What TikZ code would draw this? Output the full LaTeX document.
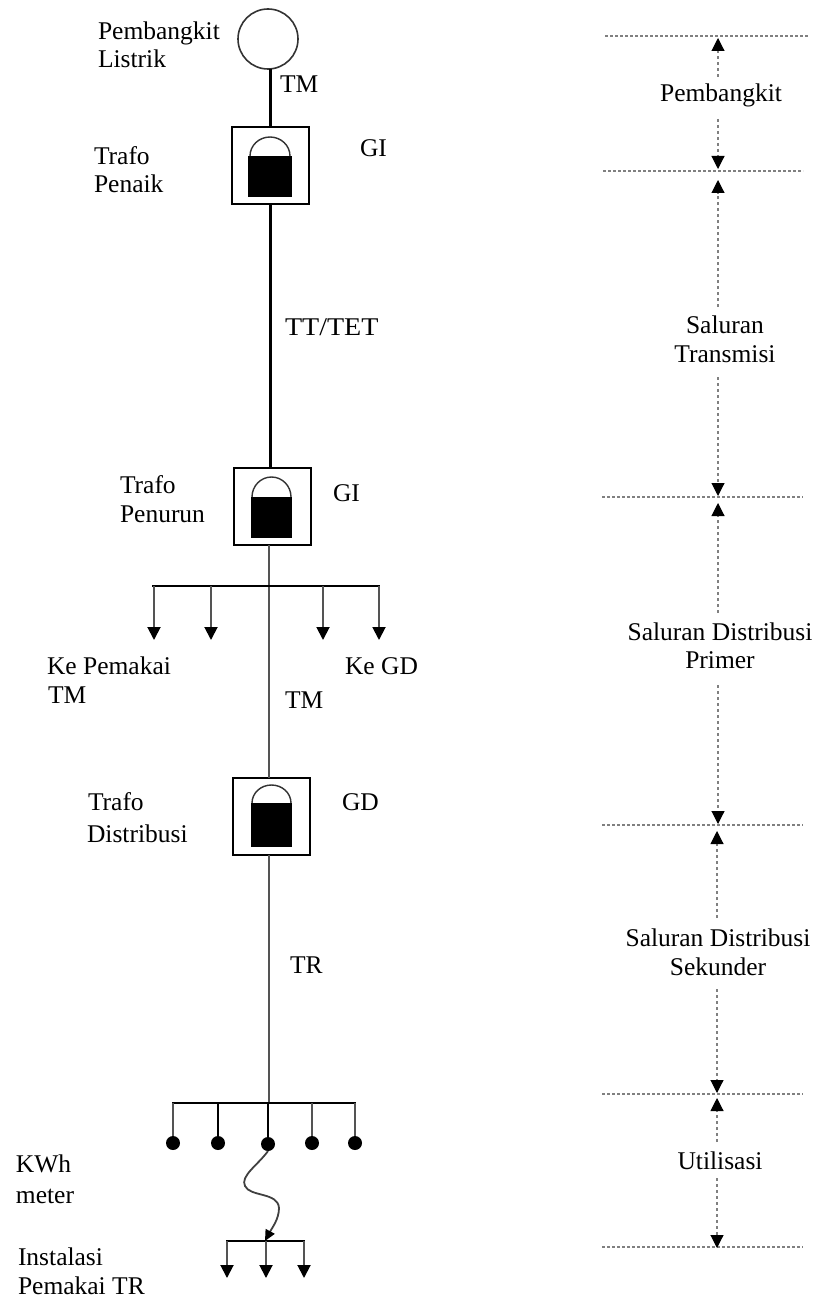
\documentclass[tikz,border=0pt]{standalone}
\usepackage{fontspec}
\setmainfont{Liberation Serif}
\usetikzlibrary{arrows.meta}
\definecolor{softline}{gray}{0.33}
\definecolor{tickline}{gray}{0.5}
\tikzset{
  lbl/.style={anchor=base west,inner sep=0pt,outer sep=0pt,font=\fontsize{25.5}{29}\selectfont,text=black},
  clbl/.style={anchor=base,inner sep=0pt,outer sep=0pt,font=\fontsize{25.5}{29}\selectfont,text=black},
  trafobox/.style={draw=black,line width=2pt,fill=white,inner sep=0pt,outer sep=0pt,minimum width=77pt,minimum height=77pt},
  core/.style={fill=black,inner sep=0pt,outer sep=0pt},
  wire/.style={line width=2.2pt,black},
  softwire/.style={line width=2.6pt,softline},
  bus/.style={line width=2.2pt,black},
  drop/.style={line width=1.9pt,softline,-{Triangle[length=13pt,width=13pt,color=black]}},
  tick/.style={line width=1.2pt,tickline,densely dashed},
  span/.style={line width=1.1pt,tickline,dashed,-{Triangle[length=13pt,width=13pt,color=black]}},
  dot/.style={circle,fill=black,inner sep=0pt,outer sep=0pt,minimum size=14pt},
  dome/.style={line width=1.4pt,black!80}
}
\begin{document}
\begin{tikzpicture}[x=1pt,y=-1pt]
\useasboundingbox (0,0) rectangle (815,1300);
% generator and transformers
\node[circle,draw=black!80,line width=1.6pt,inner sep=0pt,outer sep=0pt,minimum size=60pt] (gen) at (268,39) {};
\node[trafobox] (box1) at (270.5,165.5) {};
\node[trafobox] (box2) at (272,506.5) {};
\node[trafobox] (box3) at (271.5,816) {};
\node[core,minimum width=44pt,minimum height=41pt] (core1) at (270,176.5) {};
\node[core,minimum width=41pt,minimum height=41pt] (core2) at (271.5,517.5) {};
\node[core,minimum width=41pt,minimum height=44pt] (core3) at (271.5,825) {};
\draw[dome] (core1.north west) ++(2,0) arc[start angle=180,end angle=360,x radius=20,y radius=19];
\draw[dome] (core2.north west) ++(1,0) arc[start angle=180,end angle=360,x radius=19.5,y radius=20];
\draw[dome] (core3.north west) ++(1,0) arc[start angle=180,end angle=360,x radius=19.5,y radius=18];
% junctions
\coordinate (j1) at (269,586);
\coordinate (j2) at (268,1103);
\draw[wire] (gen.south -| box1.north) -- (box1.north);
\draw[wire] (box1.south) -- (box1.south |- box2.north);
\draw[softwire] (j1 |- box2.south) -- (j1 |- box3.north);
\draw[softwire] (j1 |- box3.south) -- (j1 |- j2);
% upper bus
\coordinate (a1) at (154,586); \coordinate (a2) at (211,586);
\coordinate (a3) at (323,586); \coordinate (a4) at (379,586);
\coordinate (a1e) at (154,640); \coordinate (a2e) at (211,640);
\coordinate (a3e) at (323,640); \coordinate (a4e) at (379,640);
\coordinate (al) at (152,586); \coordinate (ar) at (380,586);
\draw[bus] (al) -- (ar);
\draw[drop] (a1) -- (a1e);
\draw[drop] (a2) -- (a2e);
\draw[drop] (a3) -- (a3e);
\draw[drop] (a4) -- (a4e);
% service bus
\node[dot] (d1) at (173,1143) {};
\node[dot] (d2) at (218,1143) {};
\node[dot] (d3) at (268,1144) {};
\node[dot] (d4) at (312,1143) {};
\node[dot] (d5) at (355,1143) {};
\coordinate (bl) at (172,1103); \coordinate (br) at (356,1103);
\draw[bus] (bl) -- (br);
\draw[softwire,line width=2.2pt] (d1 |- bl) -- (d1);
\draw[wire] (d2 |- bl) -- (d2);
\draw[wire] (d3 |- bl) -- (d3);
\draw[softwire,line width=2.2pt] (d4 |- bl) -- (d4);
\draw[softwire,line width=2.2pt] (d5 |- bl) -- (d5);
% squiggle
\coordinate (t) at (265,1241);
\draw[line width=1.8pt,black!75,-{Triangle[length=11pt,width=10pt,color=black]}]
  (d3.south) .. controls (258,1165) and (240,1176) .. (245,1186)
  .. controls (250,1197) and (278,1192) .. (279,1208)
  .. controls (279,1219) and (272,1228) .. (t);
% lower bus
\coordinate (c1) at (227,1241); \coordinate (c2) at (266,1241); \coordinate (c3) at (304,1241);
\coordinate (c1e) at (227,1278); \coordinate (c2e) at (266,1278); \coordinate (c3e) at (304,1278);
\coordinate (cl) at (226,1241); \coordinate (cr) at (305,1241);
\draw[bus] (cl) -- (cr);
\draw[drop] (c1) -- (c1e);
\draw[drop] (c2) -- (c2e);
\draw[drop] (c3) -- (c3e);
% left labels
\node[lbl] (l1) at (98,40) {Pembangkit};
\node[lbl] (l2) at (98,68) {Listrik};
\node[lbl] (l3) at (280,93) {TM};
\node[lbl] (l4) at (94,165) {Trafo};
\node[lbl] (l5) at (94,193) {Penaik};
\node[lbl] (l6) at (360,157) {GI};
\node[lbl,xscale=1.1] (l7) at (285,335) {TT/TET};
\node[lbl] (l8) at (120,493) {Trafo};
\node[lbl] (l9) at (120,522) {Penurun};
\node[lbl] (l10) at (333,501) {GI};
\node[lbl] (l11) at (47,674) {Ke Pemakai};
\node[lbl] (l12) at (48,703) {TM};
\node[lbl] (l13) at (345,674) {Ke GD};
\node[lbl] (l14) at (285,708) {TM};
\node[lbl] (l15) at (88,810) {Trafo};
\node[lbl] (l16) at (87,842) {Distribusi};
\node[lbl] (l17) at (342,810) {GD};
\node[lbl] (l18) at (290,973) {TR};
\node[lbl] (l19) at (16,1172) {KWh};
\node[lbl] (l20) at (16,1203) {meter};
\node[lbl] (l21) at (18,1265) {Instalasi};
\node[lbl] (l22) at (18,1294) {Pemakai TR};
% right scale
\coordinate (h1a) at (605,36); \coordinate (h1b) at (808,36);
\coordinate (h2a) at (603,171); \coordinate (h2b) at (803,171);
\coordinate (h3a) at (602,497); \coordinate (h3b) at (803,497);
\coordinate (h4a) at (602,825); \coordinate (h4b) at (803,825);
\coordinate (h5a) at (602,1094); \coordinate (h5b) at (803,1094);
\coordinate (h6a) at (602,1247); \coordinate (h6b) at (803,1247);
\draw[tick] (h1a) -- (h1b);
\draw[tick] (h2a) -- (h2b);
\draw[tick] (h3a) -- (h3b);
\draw[tick] (h4a) -- (h4b);
\draw[tick] (h5a) -- (h5b);
\draw[tick] (h6a) -- (h6b);
\node[clbl] (r1) at (721,102) {Pembangkit};
\node[clbl] (r2) at (725,333) {Saluran};
\node[clbl] (r3) at (725,362) {Transmisi};
\node[clbl] (r4) at (720,640) {Saluran Distribusi};
\node[clbl] (r5) at (720,668) {Primer};
\node[clbl] (r6) at (718,946) {Saluran Distribusi};
\node[clbl] (r7) at (718,975) {Sekunder};
\node[clbl] (r8) at (720,1169) {Utilisasi};
% span arrows
\coordinate (s1) at (718,77); \coordinate (s1t) at (718,38);
\coordinate (s2) at (718,119); \coordinate (s2t) at (718,169);
\coordinate (s3) at (718,307); \coordinate (s3t) at (718,180);
\coordinate (s4) at (718,377); \coordinate (s4t) at (718,496);
\coordinate (s5) at (718,613); \coordinate (s5t) at (718,503);
\coordinate (s6) at (718,685); \coordinate (s6t) at (718,824);
\coordinate (s7) at (717,918); \coordinate (s7t) at (717,831);
\coordinate (s8) at (717,989); \coordinate (s8t) at (717,1093);
\coordinate (s9) at (717,1142); \coordinate (s9t) at (717,1098);
\coordinate (s10) at (717,1178); \coordinate (s10t) at (717,1248);
\draw[span] (s1) -- (s1t);
\draw[span] (s2) -- (s2t);
\draw[span] (s3) -- (s3t);
\draw[span] (s4) -- (s4t);
\draw[span] (s5) -- (s5t);
\draw[span] (s6) -- (s6t);
\draw[span] (s7) -- (s7t);
\draw[span] (s8) -- (s8t);
\draw[span] (s9) -- (s9t);
\draw[span] (s10) -- (s10t);
\end{tikzpicture}
\end{document}
